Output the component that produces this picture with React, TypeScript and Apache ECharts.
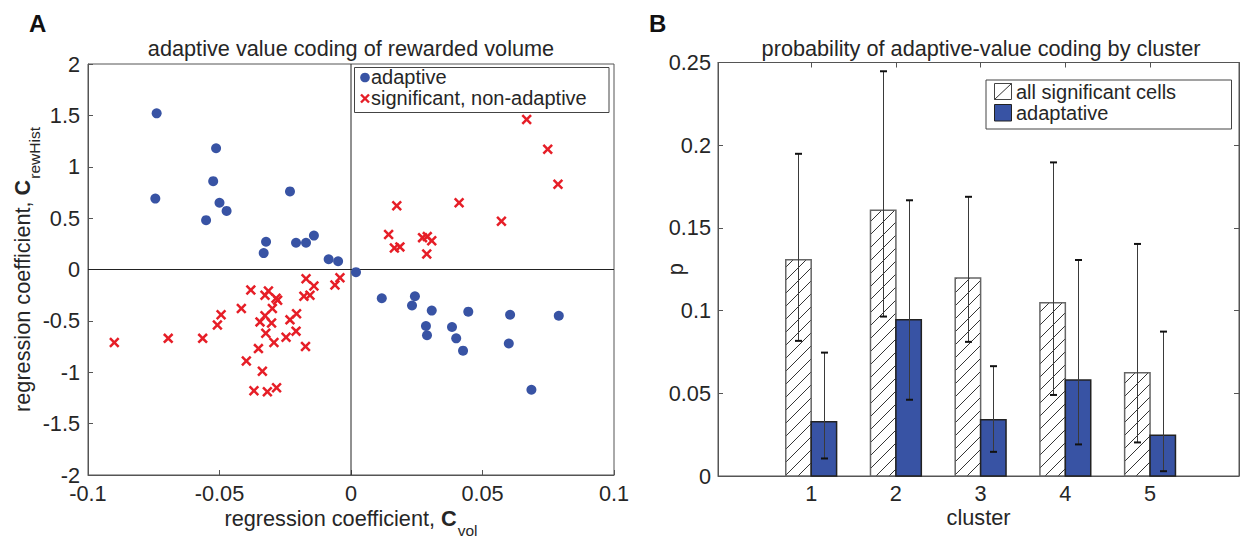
import React, { useEffect, useRef } from 'react';
import * as echarts from 'echarts';

// ---------- Panel A data ----------
const adaptiveX = [
  -0.0739, -0.0513, -0.0524, -0.0744, -0.050, -0.0473, -0.0551, -0.0232, -0.0323, -0.0332,
  -0.0209, -0.0171, -0.0141, -0.0085, -0.0049,
  0.0019, 0.0117, 0.0243, 0.0232, 0.0307, 0.0446, 0.0605, 0.079, 0.0285, 0.0289,
  0.0384, 0.040, 0.0426, 0.060, 0.0686,
];
const adaptiveY = [
  1.52, 1.18, 0.86, 0.69, 0.65, 0.57, 0.48, 0.76, 0.27, 0.16,
  0.26, 0.26, 0.33, 0.10, 0.08,
  -0.026, -0.28, -0.26, -0.35, -0.40, -0.41, -0.44, -0.45, -0.55, -0.64,
  -0.56, -0.67, -0.79, -0.72, -1.17,
];
const nonAdaptiveX = [
  0.0668, 0.0748, 0.0787, 0.0174, 0.0411, 0.0572, 0.0143, 0.0165, 0.0186, 0.0272,
  0.029, 0.0307, 0.0288,
  -0.090, -0.0695, -0.0564, -0.0508, -0.0494, -0.0417, -0.0381, -0.0398, -0.0352, -0.0337,
  -0.0369, -0.0318, -0.0283, -0.0346, -0.0327, -0.0324, -0.0302, -0.0299, -0.0293, -0.0327,
  -0.0314, -0.0285, -0.0279, -0.0247, -0.0232, -0.0207, -0.0209, -0.0173, -0.0179, -0.0156,
  -0.0171, -0.0141, -0.0061, -0.0042,
];
const nonAdaptiveY = [
  1.46, 1.17, 0.83, 0.62, 0.65, 0.47, 0.34, 0.21, 0.22, 0.31,
  0.32, 0.28, 0.15,
  -0.71, -0.67, -0.67, -0.54, -0.44, -0.38, -0.20, -0.89, -0.77, -0.99,
  -1.18, -1.19, -1.15, -0.51, -0.45, -0.62, -0.52, -0.38, -0.71, -0.25,
  -0.21, -0.28, -0.30, -0.66, -0.49, -0.43, -0.60, -0.75, -0.26, -0.25,
  -0.09, -0.16, -0.15, -0.08,
];

// ---------- Panel B data ----------
const clusters = [1, 2, 3, 4, 5];
const pAll = [0.1308, 0.1607, 0.1197, 0.1047, 0.0625];
const pAllLow = [0.0817, 0.0964, 0.0811, 0.049, 0.0203];
const pAllHigh = [0.1948, 0.2447, 0.1688, 0.1896, 0.1403];
const pAdaptive = [0.0328, 0.0944, 0.034, 0.058, 0.0247];
const pAdaptiveLow = [0.0106, 0.0461, 0.0146, 0.0191, 0.0029];
const pAdaptiveHigh = [0.0746, 0.1667, 0.0664, 0.1306, 0.0873];

const FONT = '"Liberation Sans", Arial, Helvetica, sans-serif';
const TXT = '#262626';
const AX = '#555555';
const BLUE = '#3853A4';
const RED = '#E61E27';
const FS = 21.7;
const LFS = 20;
const LH = 15;
const HATCH = 13;
const BAR_W = 0.3;

const CROSS = 'path://M0,1.7L1.7,0L5,3.3L8.3,0L10,1.7L6.7,5L10,8.3L8.3,10L5,6.7L1.7,10L0,8.3L3.3,5Z';

function hatchLines(x0: number, y0: number, x1: number, y1: number, color: string) {
  const out: any[] = [];
  const start = Math.ceil((x0 + y0) / HATCH) * HATCH;
  for (let c = start; c <= x1 + y1; c += HATCH) {
    const lo = Math.max(x0, c - y1);
    const hi = Math.min(x1, c - y0);
    if (hi - lo > 0.5) {
      out.push({
        type: 'line',
        shape: { x1: lo, y1: c - lo, x2: hi, y2: c - hi },
        style: { stroke: color, lineWidth: 1 },
      });
    }
  }
  return out;
}

const richName = (base: string, sub: string) => ({
  text: `{a|${base}}{b|C}{c|${sub}}`,
  rich: {
    a: { fontSize: FS, lineHeight: FS, verticalAlign: 'top', color: TXT, fontFamily: FONT },
    b: { fontSize: FS, lineHeight: FS, verticalAlign: 'top', color: TXT, fontWeight: 'bold', fontFamily: FONT },
    c: { fontSize: 15.5, lineHeight: 15, verticalAlign: 'top', color: TXT, padding: [15, 0, 0, 1], fontFamily: FONT },
  },
});

const tickLabel = (margin: number) => ({
  fontSize: FS, color: TXT, margin, fontFamily: FONT, lineHeight: LH,
});

export default function App() {
  const ref = useRef<HTMLDivElement>(null);

  useEffect(() => {
    if (!ref.current) return;
    const chart = echarts.init(ref.current, undefined, { renderer: 'svg' });

    const xName = richName('regression coefficient, ', 'vol');
    const yName = richName('regression coefficient, ', 'rewHist');
    const legendFont = `${LFS}px ${FONT}`;

    const option: any = {
      animation: false,
      textStyle: { fontFamily: FONT },
      title: [
        {
          text: 'adaptive value coding of rewarded volume',
          left: 351, top: 37, textAlign: 'center', padding: 0,
          textStyle: { fontSize: FS, fontWeight: 'normal', color: TXT, fontFamily: FONT },
        },
        {
          text: 'probability of adaptive-value coding by cluster',
          left: 981, top: 37, textAlign: 'center', padding: 0,
          textStyle: { fontSize: FS, fontWeight: 'normal', color: TXT, fontFamily: FONT },
        },
        {
          text: 'A', left: 29, top: 11, padding: 0,
          textStyle: { fontSize: 24, fontWeight: 'bold', color: '#111', fontFamily: FONT },
        },
        {
          text: 'B', left: 649, top: 11, padding: 0,
          textStyle: { fontSize: 24, fontWeight: 'bold', color: '#111', fontFamily: FONT },
        },
      ],
      grid: [
        {
          left: 88, top: 64, width: 526, height: 411, show: true, borderColor: AX, borderWidth: 1,
          backgroundColor: 'transparent', containLabel: false, outerBoundsMode: 'none',
        },
        {
          left: 718, top: 62.5, width: 521, height: 413.5, show: true, borderColor: AX, borderWidth: 1,
          backgroundColor: 'transparent', containLabel: false, outerBoundsMode: 'none',
        },
      ],
      xAxis: [
        {
          type: 'value', gridIndex: 0, min: -0.1, max: 0.1, interval: 0.05,
          axisLine: { onZero: false, lineStyle: { color: AX } },
          axisTick: { inside: true, length: 5, lineStyle: { color: AX } },
          axisLabel: tickLabel(11),
          splitLine: { show: false },
          name: xName.text, nameLocation: 'middle', nameGap: 32, nameMoveOverlap: false,
          nameTextStyle: { rich: xName.rich, fontSize: FS, color: TXT },
        },
        {
          type: 'value', gridIndex: 1, min: -0.1, max: 6.05,
          axisLine: { onZero: false, lineStyle: { color: AX } },
          axisTick: { inside: true, length: 5, lineStyle: { color: AX }, customValues: clusters },
          axisLabel: { ...tickLabel(10.4), customValues: clusters },
          splitLine: { show: false },
          name: 'cluster', nameLocation: 'middle', nameGap: 30, nameMoveOverlap: false,
          nameTextStyle: { fontSize: FS, color: TXT, fontFamily: FONT },
        },
        {
          type: 'value', gridIndex: 1, position: 'top', min: -0.1, max: 6.05,
          axisLine: { onZero: false, lineStyle: { color: AX } },
          axisTick: { inside: true, length: 5, lineStyle: { color: AX }, customValues: clusters },
          axisLabel: { show: false },
          splitLine: { show: false },
        },
      ],
      yAxis: [
        {
          type: 'value', gridIndex: 0, min: -2, max: 2, interval: 0.5,
          axisLine: { onZero: false, lineStyle: { color: AX } },
          axisTick: { inside: true, length: 5, lineStyle: { color: AX } },
          axisLabel: tickLabel(8),
          splitLine: { show: false },
          name: yName.text, nameLocation: 'middle', nameGap: 55, nameMoveOverlap: false,
          nameTextStyle: { rich: yName.rich, fontSize: FS, color: TXT },
        },
        {
          type: 'value', gridIndex: 1, min: 0, max: 0.25, interval: 0.05,
          axisLine: { onZero: false, lineStyle: { color: AX } },
          axisTick: { inside: true, length: 5, lineStyle: { color: AX } },
          axisLabel: tickLabel(7),
          splitLine: { show: false },
          name: 'p', nameLocation: 'middle', nameGap: 31.5, nameMoveOverlap: false,
          nameTextStyle: { fontSize: FS, color: TXT, fontFamily: FONT },
        },
        {
          type: 'value', gridIndex: 1, position: 'right', min: 0, max: 0.25, interval: 0.05,
          axisLine: { onZero: false, lineStyle: { color: AX } },
          axisTick: { inside: true, length: 5, lineStyle: { color: AX } },
          axisLabel: { show: false },
          splitLine: { show: false },
        },
      ],
      series: [
        {
          type: 'line', xAxisIndex: 0, yAxisIndex: 0, silent: true, symbol: 'none', z: 1,
          data: [[0, -2], [0, 2]], lineStyle: { color: '#222', width: 1 },
        },
        {
          type: 'line', xAxisIndex: 0, yAxisIndex: 0, silent: true, symbol: 'none', z: 1,
          data: [[-0.1, 0], [0.1, 0]], lineStyle: { color: '#222', width: 1 },
        },
        {
          name: 'adaptive', type: 'scatter', xAxisIndex: 0, yAxisIndex: 0, z: 3,
          symbol: 'circle', symbolSize: 10,
          itemStyle: { color: BLUE, opacity: 1 },
          data: adaptiveX.map((x, i) => [x, adaptiveY[i]]),
        },
        {
          name: 'significant, non-adaptive', type: 'scatter', xAxisIndex: 0, yAxisIndex: 0, z: 2,
          symbol: CROSS, symbolSize: 10.5,
          itemStyle: { color: RED, opacity: 1 },
          data: nonAdaptiveX.map((x, i) => [x, nonAdaptiveY[i]]),
        },
        {
          name: 'all significant cells', type: 'custom', xAxisIndex: 1, yAxisIndex: 1, z: 2,
          data: clusters.map((c, i) => [c, pAll[i]]),
          renderItem: (_p: any, api: any) => {
            const c = api.value(0);
            const v = api.value(1);
            const a = api.coord([c - BAR_W, v]);
            const b = api.coord([c, 0]);
            return {
              type: 'group',
              children: [
                { type: 'rect', shape: { x: a[0], y: a[1], width: b[0] - a[0], height: b[1] - a[1] }, style: { fill: '#fff', stroke: 'none' } },
                ...hatchLines(a[0], a[1], b[0], b[1], '#333'),
                { type: 'rect', shape: { x: a[0], y: a[1], width: b[0] - a[0], height: b[1] - a[1] }, style: { fill: 'none', stroke: '#666', lineWidth: 1.5 } },
              ],
            };
          },
        },
        {
          name: 'adaptative', type: 'custom', xAxisIndex: 1, yAxisIndex: 1, z: 2,
          data: clusters.map((c, i) => [c, pAdaptive[i]]),
          renderItem: (_p: any, api: any) => {
            const c = api.value(0);
            const v = api.value(1);
            const a = api.coord([c, v]);
            const b = api.coord([c + BAR_W, 0]);
            return {
              type: 'rect',
              shape: { x: a[0], y: a[1], width: b[0] - a[0], height: b[1] - a[1] },
              style: { fill: BLUE, stroke: '#222', lineWidth: 1.5 },
            };
          },
        },
        ...[
          { off: -BAR_W / 2, low: pAllLow, high: pAllHigh },
          { off: BAR_W / 2, low: pAdaptiveLow, high: pAdaptiveHigh },
        ].map((s) => ({
          type: 'custom', xAxisIndex: 1, yAxisIndex: 1, z: 4, silent: true,
          data: clusters.map((c, i) => [c + s.off, s.low[i], s.high[i]]),
          renderItem: (_p: any, api: any) => {
            const x = api.value(0);
            const lo = api.coord([x, api.value(1)]);
            const hi = api.coord([x, api.value(2)]);
            const cx = Math.round(lo[0]) + 0.5;
            return {
              type: 'group',
              children: [
                { type: 'line', shape: { x1: cx, y1: lo[1], x2: cx, y2: hi[1] }, style: { stroke: '#3a3a3a', lineWidth: 1 } },
                { type: 'line', shape: { x1: cx - 3.5, y1: lo[1], x2: cx + 3.5, y2: lo[1] }, style: { stroke: '#111', lineWidth: 2 } },
                { type: 'line', shape: { x1: cx - 3.5, y1: hi[1], x2: cx + 3.5, y2: hi[1] }, style: { stroke: '#111', lineWidth: 2 } },
              ],
            };
          },
        })),
      ],
      graphic: [
        // legend A
        { type: 'rect', shape: { x: 354.5, y: 67.5, width: 254.5, height: 45 }, style: { fill: '#fff', stroke: '#444', lineWidth: 1 }, z: 10 },
        { type: 'circle', shape: { cx: 365, cy: 77.5, r: 4.8 }, style: { fill: BLUE }, z: 11 },
        { type: 'text', x: 371, y: 77, style: { text: 'adaptive', font: legendFont, fill: TXT, verticalAlign: 'middle', lineHeight: 18 }, z: 11 },
        { type: 'line', shape: { x1: 361, y1: 94.5, x2: 369, y2: 102.5 }, style: { stroke: RED, lineWidth: 2.4 }, z: 11 },
        { type: 'line', shape: { x1: 369, y1: 94.5, x2: 361, y2: 102.5 }, style: { stroke: RED, lineWidth: 2.4 }, z: 11 },
        { type: 'text', x: 371, y: 98, style: { text: 'significant, non-adaptive', font: legendFont, fill: TXT, verticalAlign: 'middle', lineHeight: 18 }, z: 11 },
        // legend B
        { type: 'rect', shape: { x: 986, y: 80, width: 245.5, height: 49 }, style: { fill: '#fff', stroke: '#444', lineWidth: 1 }, z: 10 },
        { type: 'rect', shape: { x: 994.5, y: 83.5, width: 17, height: 16 }, style: { fill: '#fff', stroke: '#444', lineWidth: 1 }, z: 11 },
        { type: 'line', shape: { x1: 994.5, y1: 99.5, x2: 1011.5, y2: 83.5 }, style: { stroke: '#333', lineWidth: 1 }, z: 11 },
        { type: 'text', x: 1016, y: 92, style: { text: 'all significant cells', font: legendFont, fill: TXT, verticalAlign: 'middle', lineHeight: 18 }, z: 11 },
        { type: 'rect', shape: { x: 994.5, y: 104.5, width: 17, height: 16.5 }, style: { fill: BLUE, stroke: '#222', lineWidth: 1 }, z: 11 },
        { type: 'text', x: 1016, y: 113, style: { text: 'adaptative', font: legendFont, fill: TXT, verticalAlign: 'middle', lineHeight: 18 }, z: 11 },
      ],
    };

    chart.setOption(option);
    return () => chart.dispose();
  }, []);

  return (
    <div
      ref={ref}
      style={{ position: 'absolute', left: 0, top: 0, width: 1244, height: 540, background: '#fff' }}
    />
  );
}
